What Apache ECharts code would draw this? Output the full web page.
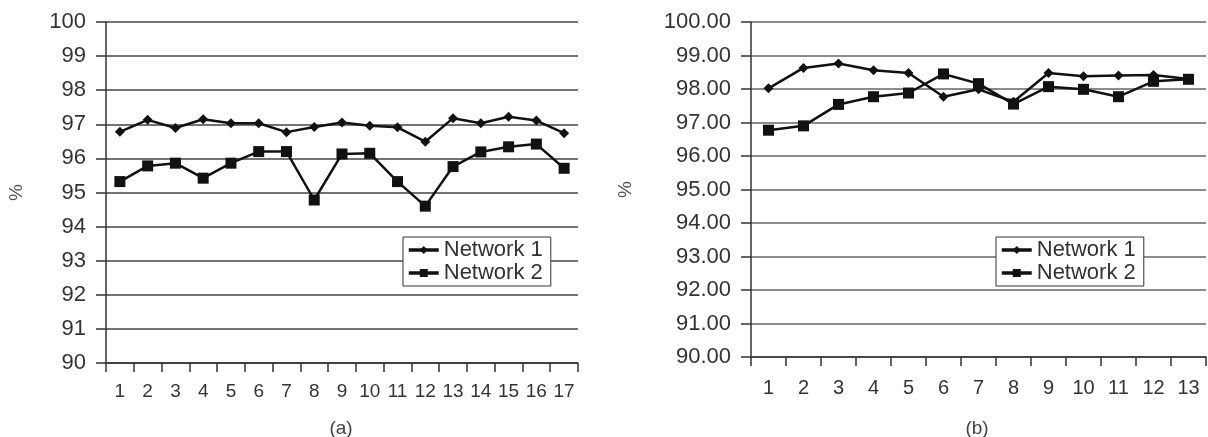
<!DOCTYPE html>
<html>
<head>
<meta charset="utf-8">
<script src="https://cdn.jsdelivr.net/npm/echarts@6/dist/echarts.min.js"></script>
<style>
html,body{margin:0;padding:0;background:#fff;}
#c{width:1208px;height:437px;}
</style>
</head>
<body>
<div id="c"></div>
<script>
// ---- data ----
const catsA = ['1','2','3','4','5','6','7','8','9','10','11','12','13','14','15','16','17'];
const netA1 = [96.78, 97.13, 96.89, 97.15, 97.03, 97.03, 96.77, 96.92, 97.05, 96.96, 96.91, 96.49, 97.18, 97.03, 97.22, 97.11, 96.74];
const netA2 = [95.32, 95.78, 95.86, 95.42, 95.86, 96.20, 96.20, 94.78, 96.13, 96.15, 95.32, 94.60, 95.76, 96.19, 96.34, 96.42, 95.71];
const catsB = ['1','2','3','4','5','6','7','8','9','10','11','12','13'];
const netB1 = [98.02, 98.63, 98.76, 98.56, 98.48, 97.77, 97.99, 97.62, 98.48, 98.38, 98.40, 98.42, 98.30];
const netB2 = [96.77, 96.90, 97.54, 97.77, 97.88, 98.45, 98.16, 97.55, 98.07, 97.99, 97.77, 98.23, 98.29];
const seriesNames = ['Network 1', 'Network 2'];
const captions = ['(a)', '(b)'];
const yName = '%';

const font = 'Liberation Sans, Arial, sans-serif';
const txt = '#333';

function yAxis(gridIndex, fmt, gridColor, nameGap) {
  return {
    type: 'value', gridIndex, min: 90, max: 100, interval: 1,
    name: yName, nameLocation: 'middle', nameGap: nameGap, nameRotate: 90,
    nameTextStyle: {color: '#555', fontSize: 19, fontFamily: font},
    axisLine: {show: true, lineStyle: {color: '#333', width: 1.5}},
    axisTick: {show: true, length: 10, lineStyle: {color: '#333', width: 1.5}},
    axisLabel: {color: txt, fontSize: 22, fontFamily: font, margin: 20, formatter: fmt},
    splitLine: {show: true, lineStyle: {color: gridColor, width: 1.5}}
  };
}
function xAxis(gridIndex, data, fs, margin) {
  return {
    type: 'category', gridIndex, data, boundaryGap: true,
    axisLine: {show: true, lineStyle: {color: '#333', width: 1.5}},
    axisTick: {show: true, length: 9, lineStyle: {color: '#333', width: 1.5}},
    axisLabel: {color: txt, fontSize: fs, fontFamily: font, margin: margin, interval: 0}
  };
}
function line(name, xi, data, symbol, size) {
  return {
    name, type: 'line', xAxisIndex: xi, yAxisIndex: xi, data,
    symbol, symbolSize: size, showSymbol: true,
    lineStyle: {color: '#111', width: 2.5},
    itemStyle: {color: '#111'},
    animation: false
  };
}
function legend(left) {
  return {
    data: seriesNames, orient: 'vertical', left: left, top: 237,
    padding: [2, 8, 2, 4], itemGap: 1, itemWidth: 30, itemHeight: 10,
    borderColor: '#333', borderWidth: 1, backgroundColor: '#fff',
    lineStyle: {width: 3.5, color: '#111'},
    textStyle: {color: txt, fontSize: 22, lineHeight: 21, fontFamily: font}
  };
}

const chart = echarts.init(document.getElementById('c'), null, {renderer: 'canvas'});
chart.setOption({
  backgroundColor: '#fff',
  animation: false,
  title: [
    {text: captions[0], left: 336, top: 414, textAlign: 'center', textStyle: {color: '#444', fontSize: 19, fontWeight: 'normal', fontFamily: font}},
    {text: captions[1], left: 972, top: 414, textAlign: 'center', textStyle: {color: '#444', fontSize: 19, fontWeight: 'normal', fontFamily: font}}
  ],
  grid: [
    {left: 106, right: 630, top: 22, bottom: 74, containLabel: false},
    {left: 751, right: 2, top: 22, bottom: 80, containLabel: false}
  ],
  xAxis: [xAxis(0, catsA, 19, 19), xAxis(1, catsB, 20, 21)],
  yAxis: [
    yAxis(0, v => String(v), '#444', 80),
    yAxis(1, v => v.toFixed(2), '#666', 116)
  ],
  legend: [legend(403), legend(996)],
  series: [
    line(seriesNames[0], 0, netA1, 'diamond', 10),
    line(seriesNames[1], 0, netA2, 'rect', 11),
    line(seriesNames[0], 1, netB1, 'diamond', 10),
    line(seriesNames[1], 1, netB2, 'rect', 11)
  ]
});
</script>
</body>
</html>
